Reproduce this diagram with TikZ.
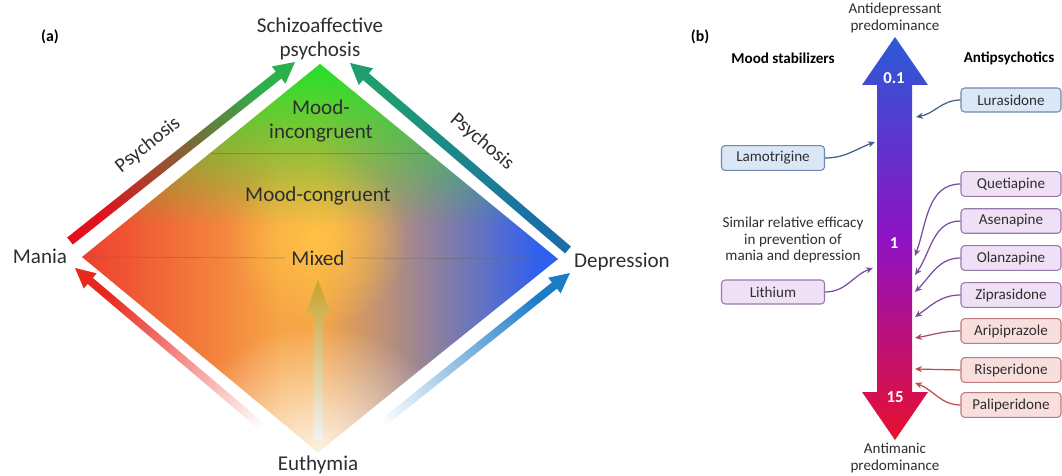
\documentclass[tikz,border=0pt]{standalone}
\usepackage{fontspec}
\setmainfont{Carlito}
\usetikzlibrary{calc,arrows.meta,fadings}

\definecolor{txtgray}{HTML}{2E2E2E}
\definecolor{manred}{HTML}{EE3F2E}
\definecolor{mixorange}{HTML}{F6A545}
\definecolor{depblue}{HTML}{2F5FF0}
\definecolor{mixyellow}{HTML}{FFC245}
\definecolor{topgreen}{HTML}{22E02A}
\definecolor{psyred}{HTML}{E3101E}
\definecolor{psygreen}{HTML}{2BB04A}
\definecolor{psyteal}{HTML}{1E9E6E}
\definecolor{psyblue}{HTML}{1A6EA8}
\definecolor{eurred}{HTML}{E8281E}
\definecolor{eublue}{HTML}{1B7CC8}
\definecolor{euyellow}{HTML}{C8A22A}
\definecolor{arrblue}{HTML}{2A5BD6}
\definecolor{arrpurple}{HTML}{8E12C4}
\definecolor{arrred}{HTML}{E8102E}
\definecolor{boxblue}{HTML}{D9E7F7}
\definecolor{edgeblue}{HTML}{7089AE}
\definecolor{boxpurple}{HTML}{EFE0F6}
\definecolor{edgepurple}{HTML}{9A78AE}
\definecolor{boxpink}{HTML}{F9DEDE}
\definecolor{edgepink}{HTML}{BC7C7C}
\definecolor{lineblue}{HTML}{3E5F8C}
\definecolor{linepurple}{HTML}{7A4A9E}
\definecolor{linepink}{HTML}{C04A4A}

\pgfdeclarehorizontalshading{moodshade}{100bp}{color(0bp)=(manred); color(25bp)=(manred);
  color(46bp)=(mixorange); color(50bp)=(mixorange); color(73bp)=(depblue); color(100bp)=(depblue)}
\tikzfading[name=fade down, top color=transparent!0, bottom color=transparent!100]
\tikzfading[name=glow, inner color=transparent!0, outer color=transparent!100]

% fat shaded arrow: options, from, to, half shaft, half head, head length
\newcommand{\fatarrow}[6]{%
  \coordinate (fah) at ($(#3)!#6!(#2)$);
  \shade[#1] ($(#2)!#4!90:(#3)$) -- ($(fah)!#4!90:(#3)$) -- ($(fah)!#5!90:(#3)$) -- (#3)
    -- ($(fah)!#5!-90:(#3)$) -- ($(fah)!#4!-90:(#3)$) -- ($(#2)!#4!-90:(#3)$) -- cycle;}

\tikzset{
  lbl/.style={text=txtgray, font=\fontsize{12}{13.5}\selectfont, align=center},
  plbl/.style={text=txtgray, font=\fontsize{11.5}{13}\selectfont},
  small/.style={text=txtgray, font=\fontsize{8.6}{9.6}\selectfont, align=center},
  head/.style={text=black, font=\fontsize{8.6}{9.6}\selectfont\bfseries},
  num/.style={text=white, font=\fontsize{9.5}{10}\selectfont\bfseries},
  drugbox/.style={draw, rounded corners=2pt, line width=0.6pt, minimum width=2cm,
    minimum height=0.48cm, text=txtgray, font=\fontsize{8.6}{9.6}\selectfont},
  bluebox/.style={drugbox, fill=boxblue, draw=edgeblue},
  purplebox/.style={drugbox, fill=boxpurple, draw=edgepurple},
  pinkbox/.style={drugbox, fill=boxpink, draw=edgepink},
  link/.style={line width=0.7pt, -{Stealth[length=4pt,width=3.5pt]}}
}

\begin{document}
\begin{tikzpicture}[x=0.02cm, y=0.02cm]
\useasboundingbox (0,0) rectangle (1062,-476);

% (a) diamond
\coordinate (dT) at (320,-64);
\coordinate (dL) at (82,-257);
\coordinate (dR) at (558,-259);
\coordinate (dB) at (318,-452);
\begin{scope}
  \clip (dT) -- (dR) -- (dB) -- (dL) -- cycle;
  \shade[shading=moodshade] (82,-64) rectangle (558,-452);
  \fill[mixyellow, path fading=glow] (318,-238) circle (90);
  \fill[topgreen, path fading=fade down] (82,-64) rectangle (558,-225);
  \fill[white, path fading=glow] (318,-475) circle (150);
\end{scope}

\node at (50,-37) {\fontsize{9}{10}\selectfont\bfseries (a)};
\node[lbl] (schizo) at (320,-39) {Schizoaffective\\psychosis};
\node[lbl] (mania) at (40,-256) {Mania};
\node[lbl] (depr) at (622,-262) {Depression};
\node[lbl] (euth) at (318,-465) {Euthymia};
\node[lbl] (incong) at (321,-121) {Mood-\\incongruent};
\node[lbl] (cong) at (318,-196) {Mood-congruent};
\node[lbl] (mixed) at (318,-258) {Mixed};

\draw[black!60, opacity=.5, line width=0.4pt] (210,-153) -- (429,-153);
\draw[black!60, opacity=.5, line width=0.4pt] (dL) -- (mixed.west);
\draw[black!60, opacity=.5, line width=0.4pt] (mixed.east) -- (dR);

% (a) arrows
\coordinate (pL0) at (70,-241);
\coordinate (pL1) at (295,-62);
\coordinate (pR0) at (568,-250);
\coordinate (pR1) at (350,-63);
\coordinate (eL0) at (292,-452);
\coordinate (eL1) at (75,-268);
\coordinate (eR0) at (353,-447);
\coordinate (eR1) at (570,-273);
\coordinate (eU0) at (318,-440);
\coordinate (eU1) at (318,-280);
\fatarrow{bottom color=psyred, top color=psygreen, shading angle=-51.4}{pL0}{pL1}{0.09cm}{0.22cm}{0.42cm}
\fatarrow{bottom color=psyblue, top color=psyteal, shading angle=49.4}{pR0}{pR1}{0.09cm}{0.22cm}{0.42cm}
\fatarrow{bottom color=white, top color=eurred, shading angle=49.7}{eL0}{eL1}{0.08cm}{0.2cm}{0.4cm}
\fatarrow{bottom color=white, top color=eublue, shading angle=-51.3}{eR0}{eR1}{0.08cm}{0.2cm}{0.4cm}
\fatarrow{bottom color=black!5, top color=euyellow, shading angle=0}{eU0}{eU1}{0.1cm}{0.24cm}{0.66cm}

\node[plbl, rotate=38.6] (psyL) at (148,-145) {Psychosis};
\node[plbl, rotate=-40.6] (psyR) at (482,-142) {Psychosis};

% (b) scale arrow
\node at (700,-37) {\fontsize{9}{10}\selectfont\bfseries (b)};
\shade[top color=arrblue, bottom color=arrred, middle color=arrpurple]
  (895,-37) -- (928,-85) -- (912,-85) -- (912,-392) -- (928,-392) -- (895,-440)
  -- (862,-392) -- (877,-392) -- (877,-85) -- (862,-85) -- cycle;
\node[num] (n01) at (894,-78) {0.1};
\node[num] (n1) at (894,-243) {1};
\node[num] (n15) at (895,-397) {15};

\node[small] (antidep) at (895,-18) {Antidepressant\\predominance};
\node[small] (antiman) at (895,-458) {Antimanic\\predominance};
\node[head] (stab) at (783,-58) {Mood stabilizers};
\node[head] (apsy) at (1009,-58) {Antipsychotics};
\node[small] (similar) at (793,-240) {Similar relative efficacy\\in prevention of\\mania and depression};

% drug boxes
\node[bluebox, minimum width=2.06cm] (lamo) at (773,-158) {Lamotrigine};
\node[purplebox, minimum width=2.06cm] (lith) at (773,-292) {Lithium};
\node[bluebox] (lura) at (1011,-100) {Lurasidone};
\node[purplebox] (quet) at (1011,-184) {Quetiapine};
\node[purplebox] (asen) at (1011,-221) {Asenapine};
\node[purplebox] (olan) at (1011,-258) {Olanzapine};
\node[purplebox] (zipr) at (1011,-295) {Ziprasidone};
\node[pinkbox] (arip) at (1011,-331) {Aripiprazole};
\node[pinkbox] (risp) at (1011,-370) {Risperidone};
\node[pinkbox] (pali) at (1011,-405) {Paliperidone};

% points on the shaft
\coordinate (tLamo) at (875,-142);
\coordinate (tLith) at (873,-268);
\coordinate (tLura) at (916,-117);
\coordinate (tQuet) at (915,-256);
\coordinate (tAsen) at (915,-275);
\coordinate (tOlan) at (915,-292);
\coordinate (tZipr) at (915,-317);
\coordinate (tArip) at (915,-338);
\coordinate (tRisp) at (915,-369);
\coordinate (tPali) at (915,-383);

\draw[link, lineblue] (lamo.east) to[out=0, in=200] (tLamo);
\draw[link, linepurple] (lith.east) to[out=0, in=200] (tLith);
\draw[link, lineblue] (lura.west) to[out=180, in=10] (tLura);
\draw[link, linepurple] (quet.west) to[out=180, in=70] (tQuet);
\draw[link, linepurple] (asen.west) to[out=180, in=55] (tAsen);
\draw[link, linepurple] (olan.west) to[out=180, in=45] (tOlan);
\draw[link, linepurple] (zipr.west) to[out=180, in=35] (tZipr);
\draw[link, linepink!70!linepurple] (arip.west) to[out=180, in=10] (tArip);
\draw[link, linepink] (risp.west) -- (tRisp);
\draw[link, linepink] (pali.west) to[out=180, in=-20] (tPali);
\end{tikzpicture}
\end{document}
